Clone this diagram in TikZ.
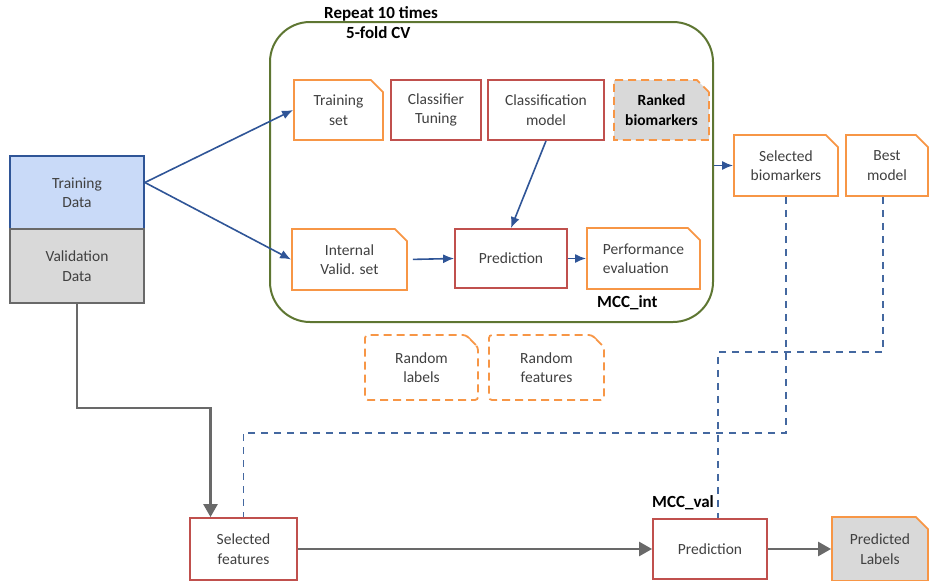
\documentclass[tikz,border=0pt]{standalone}
\usepackage{fontspec}
\setmainfont{Carlito}
\usetikzlibrary{shapes.misc,arrows.meta}

\definecolor{bluedraw}{RGB}{47,85,151}
\definecolor{bluefill}{RGB}{201,218,248}
\definecolor{grayfill}{RGB}{217,217,217}
\definecolor{graydraw}{RGB}{105,105,105}
\definecolor{orangedraw}{RGB}{247,150,70}
\definecolor{reddraw}{RGB}{192,80,77}
\definecolor{greendraw}{RGB}{94,118,50}
\definecolor{dashblue}{RGB}{68,104,160}
\definecolor{textgray}{RGB}{64,64,64}

\tikzset{
  box/.style={draw, line width=1.8pt, align=center, text=textgray, inner sep=2pt},
  redbox/.style={box, draw=reddraw},
  orangebox/.style={box, draw=orangedraw, chamfered rectangle,
    chamfered rectangle corners=north east, chamfered rectangle xsep=9pt},
  dashedbox/.style={dash pattern=on 8pt off 5pt},
  randbox/.style={orangebox, dashedbox, rounded corners=3pt},
  blueline/.style={draw=bluedraw, line width=1.6pt, -{Latex[length=11pt,width=9pt]}},
  grayline/.style={draw=graydraw, line width=2.5pt, -{Triangle[length=13pt,width=14pt]}},
  dashline/.style={draw=dashblue, line width=1.5pt, dash pattern=on 7pt off 6pt},
  boldlabel/.style={font=\fontsize{17}{20}\selectfont\bfseries, anchor=west, inner sep=0pt}
}

\begin{document}
\begin{tikzpicture}[x=1pt,y=-1pt,font=\fontsize{15.5}{19.5}\selectfont]
  \useasboundingbox (0,0) rectangle (930,581);

  % data on the left
  \node[box, draw=bluedraw, fill=bluefill, minimum width=134pt, minimum height=73pt]
    (trdata) at (77,192.5) {Training\\Data};
  \node[box, draw=graydraw, fill=grayfill, minimum width=134pt, minimum height=74pt]
    (valdata) at (77,266) {Validation\\Data};

  % cross validation loop
  \node[draw=greendraw, line width=2pt, rounded corners=40pt,
    minimum width=443pt, minimum height=300pt] (cv) at (491.5,172) {};
  \node[boldlabel] (repeat) at (324,14) {Repeat 10 times};
  \node[boldlabel] (fold) at (346,33) {5-fold CV};

  \node[orangebox, minimum width=89pt, minimum height=60pt] (trset) at (338.5,110) {Training\\set};
  \node[redbox, minimum width=90pt, minimum height=60pt] (tuning) at (436,110) {Classifier\\Tuning};
  \node[redbox, minimum width=116pt, minimum height=60pt] (clmodel) at (546,110) {Classification\\model};
  \node[orangebox, dashedbox, fill=grayfill, text=black, font=\fontsize{15.5}{19.5}\selectfont\bfseries,
    minimum width=95pt, minimum height=60pt] (ranked) at (661.5,110) {Ranked\\biomarkers};

  \node[orangebox, minimum width=115pt, minimum height=61pt] (intval) at (349.5,259.5) {Internal\\Valid. set};
  \node[redbox, minimum width=112pt, minimum height=59pt] (predint) at (511,258.5) {Prediction};
  \node[orangebox, align=left, minimum width=113pt, minimum height=61pt] (perfeval) at (643.5,258.5)
    {Performance\\evaluation\hspace*{14pt}};
  \node[boldlabel] (mccint) at (597,303) {MCC\_int};

  % outputs of the loop
  \node[orangebox, minimum width=104pt, minimum height=61pt] (selbio) at (786,165.5) {Selected\\biomarkers};
  \node[orangebox, minimum width=82pt, minimum height=61pt] (bestmod) at (887,165.5) {Best\\model};

  % randomisation
  \node[randbox, minimum width=113pt, minimum height=65pt] (rndlab) at (421.5,367.5) {Random\\labels};
  \node[randbox, minimum width=115pt, minimum height=65pt] (rndfeat) at (546.5,367.5) {Random\\features};

  % validation
  \node[redbox, minimum width=107pt, minimum height=62pt] (selfeat) at (243.5,549) {Selected\\features};
  \node[redbox, minimum width=114pt, minimum height=60pt] (predval) at (710,549) {Prediction};
  \node[orangebox, fill=grayfill, minimum width=96pt, minimum height=64pt] (predlab) at (880,549) {Predicted\\Labels};
  \node[boldlabel] (mccval) at (652,503) {MCC\_val};

  % connectors
  \draw[blueline] ([yshift=10pt]trdata.east) -- (trset.west);
  \draw[blueline] ([yshift=10pt]trdata.east) -- (intval.west);
  \draw[blueline, shorten <=5pt] (intval.east) -- (predint.west);
  \draw[blueline] (clmodel.south) -- (predint.north);
  \draw[blueline] (predint.east) -- (perfeval.west);
  \draw[blueline] (cv.east |- selbio.west) -- (selbio.west);

  \draw[dashline] (selbio.south) -- ++(0,236) -| (selfeat.north);
  \draw[dashline] ([xshift=-4pt]bestmod.south) -- ++(0,155) -| ([xshift=8pt]predval.north);

  \draw[grayline] (valdata.south) -- ++(0,104) -| ([xshift=-33pt]selfeat.north);
  \draw[grayline] (selfeat.east) -- (predval.west);
  \draw[grayline] (predval.east) -- (predlab.west);
\end{tikzpicture}
\end{document}
